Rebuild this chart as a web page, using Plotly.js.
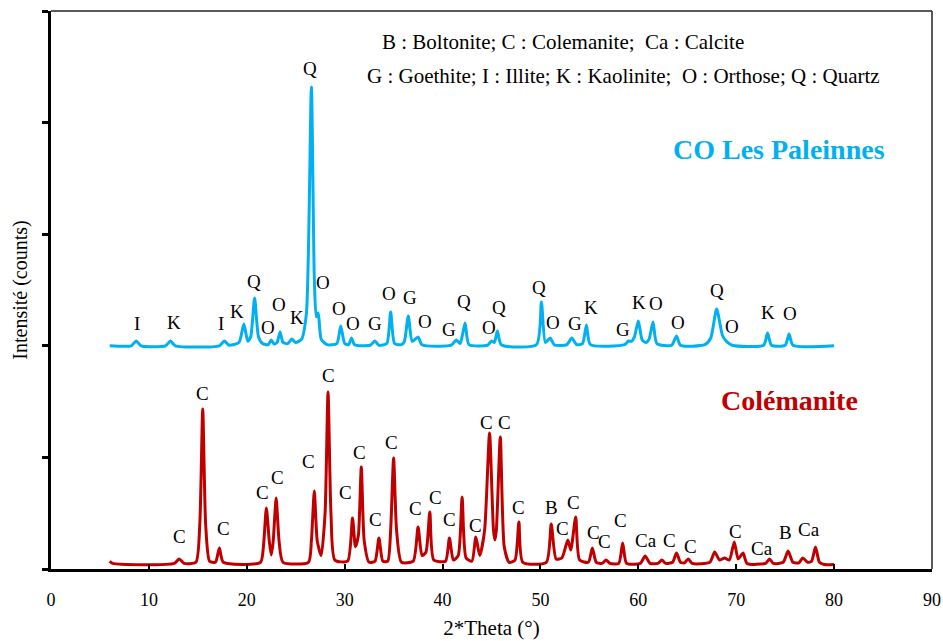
<!DOCTYPE html>
<html>
<head>
<meta charset="utf-8">
<script src="https://cdn.plot.ly/plotly-3.0.1.min.js"></script>
<style>
html,body{margin:0;padding:0;background:#fff;}
#chart{width:943px;height:641px;}
#chart svg text, #chart svg tspan{font-family:'Liberation Serif',serif !important;}
</style>
</head>
<body>
<div id="chart"></div>
<script>
// ---- CO Les Paleinnes pattern (offset pattern, upper curve) ----
const paleinnesTheta = [6.0,8.2,8.7,9.2,11.7,12.2,12.7,17.2,17.7,18.2,19.2,19.7,20.1,20.4,20.8,21.2,21.6,22.2,22.5,22.8,23.1,23.4,23.7,24.2,24.6,25.0,25.6,26.1,26.6,26.9,27.1,27.3,27.6,28.2,29.2,29.6,30.0,30.4,30.7,31.0,32.6,33.1,33.5,34.3,34.7,35.1,35.8,36.1,36.5,36.9,37.5,37.9,40.9,41.4,41.8,42.3,42.7,44.6,45.0,45.3,45.6,46.0,49.6,50.1,50.5,51.0,51.4,52.7,53.2,53.7,54.3,54.7,55.1,58.6,59.0,59.3,59.6,60.0,60.4,60.8,61.1,61.5,61.9,63.4,63.9,64.3,66.8,67.4,68.0,68.6,69.0,69.6,72.8,73.2,73.6,75.0,75.4,75.8,80.0];
const paleinnesCounts = [2000,2000,2043,2000,2000,2043,2000,2000,2043,2005,2030,2195,2040,2080,2428,2080,2020,2010,2052,2015,2030,2124,2030,2020,2061,2030,2060,2300,4319,2600,2260,2294,2060,2010,2020,2177,2020,2010,2070,2010,2005,2043,2005,2020,2303,2020,2010,2040,2267,2040,2079,2010,2005,2052,2020,2204,2010,2005,2043,2030,2133,2010,2010,2392,2030,2070,2010,2010,2070,2010,2020,2186,2010,2010,2043,2040,2080,2222,2050,2030,2060,2213,2020,2005,2088,2005,2010,2070,2330,2090,2040,2005,2005,2115,2005,2005,2106,2005,2000];

// ---- Colémanite pattern (lower curve) ----
const colemaniteTheta = [6.0,6.3,12.6,13.1,13.6,14.8,15.2,15.5,15.8,16.2,16.8,17.2,17.6,21.4,21.7,22.0,22.3,22.5,22.7,23.0,23.3,23.7,26.3,26.6,26.9,27.2,27.6,28.0,28.3,28.6,29.0,30.3,30.8,31.1,31.4,31.7,32.0,32.5,33.1,33.5,33.9,34.4,34.7,35.0,35.3,35.8,37.0,37.5,37.9,38.3,38.7,39.1,40.3,40.7,41.1,41.6,42.0,42.4,43.0,43.4,43.8,44.3,44.8,45.2,45.35,45.5,45.9,46.3,46.8,47.4,47.8,48.2,50.6,51.1,51.6,52.2,52.8,53.1,53.6,54.0,54.9,55.3,55.7,56.3,56.7,57.1,58.0,58.4,58.8,60.2,60.7,61.2,62.0,62.4,62.8,63.5,63.9,64.3,64.7,65.1,65.5,67.3,67.8,68.3,68.8,69.3,69.8,70.2,70.7,71.1,73.0,73.4,73.8,74.8,75.3,75.8,76.4,76.8,77.3,77.7,78.1,78.5,79.0,80.0];
const colemaniteCounts = [70,50,50,90,50,60,400,1434,400,70,60,188,60,60,200,547,250,125,250,636,250,60,60,250,699,250,120,500,1586,500,80,70,457,200,300,914,250,60,70,278,70,70,350,995,350,60,70,376,120,150,511,80,70,278,80,120,645,100,70,287,120,350,1219,350,260,350,1183,200,60,80,421,60,60,403,90,100,260,170,466,80,60,188,60,50,81,50,50,233,50,50,116,50,50,81,50,60,143,60,55,90,50,60,152,80,99,80,242,90,143,50,50,90,50,60,161,60,55,99,60,70,197,60,40,40];

// ---- peak labels ----
const paleinnesLabels = ["I","K","I","K","Q","O","O","K","Q","O","O","O","G","O","G","O","G","Q","O","Q","Q","O","G","K","G","K","O","O","Q","O","K","O"];
const paleinnesLabelTheta = [8.8,12.6,17.4,19.0,20.7,22.2,23.3,25.1,26.5,27.8,29.4,30.9,33.1,34.5,36.7,38.2,40.7,42.2,44.7,45.8,49.9,51.3,53.5,55.2,58.4,60.1,61.8,64.1,68.0,69.6,73.2,75.5];
const paleinnesLabelCounts = [2204,2213,2204,2303,2572,2168,2366,2258,4489,2563,2330,2204,2204,2473,2437,2222,2150,2401,2168,2339,2518,2213,2204,2339,2142,2384,2375,2213,2500,2177,2294,2285];

const colemaniteLabels = ["C","C","C","C","C","C","C","C","C","C","C","C","C","C","C","C","C","C","B","C","C","C","C","C","Ca","C","C","C","Ca","B","Ca"];
const colemaniteLabelTheta = [13.1,15.5,17.6,21.6,23.1,26.3,28.3,30.1,31.5,33.2,34.8,37.2,39.3,40.7,43.4,44.5,46.3,47.8,51.1,52.3,53.4,55.4,56.5,58.2,60.8,63.2,65.3,69.9,72.6,75.0,77.4];
const colemaniteLabelCounts = [287,1577,367,690,824,959,1738,690,1048,448,1138,538,645,448,394,1317,1317,547,547,367,600,323,242,439,251,251,206,332,188,323,358];

const xTickValues = [0,10,20,30,40,50,60,70,80,90];
const keyLines = ["B : Boltonite; C : Colemanite;  Ca : Calcite", "G : Goethite; I : Illite; K : Kaolinite;  O : Orthose; Q : Quartz"];
const sampleNames = ["CO Les Paleinnes", "Colémanite"];

const SERIF = 'Liberation Serif';
const BLUE = '#00B0F0', RED = '#C00000';

const traces = [
  {x: paleinnesTheta, y: paleinnesCounts, type: 'scatter', mode: 'lines', line: {color: BLUE, width: 3, shape: 'spline', smoothing: 0.6}, hoverinfo: 'skip'},
  {x: colemaniteTheta, y: colemaniteCounts, type: 'scatter', mode: 'lines', line: {color: RED, width: 3, shape: 'spline', smoothing: 0.6}, hoverinfo: 'skip'}
];

const lbl = (x, y, t) => ({x: x, y: y, xref: 'x', yref: 'y', text: t, showarrow: false, xanchor: 'center', yanchor: 'middle', font: {family: SERIF, size: 19, color: '#000'}});
const annotations = [];
paleinnesLabels.forEach((t, i) => annotations.push(lbl(paleinnesLabelTheta[i], paleinnesLabelCounts[i], t)));
colemaniteLabels.forEach((t, i) => annotations.push(lbl(colemaniteLabelTheta[i], colemaniteLabelCounts[i], t)));

// text blocks placed by pixel position inside the plot area
const L = 51, R = 932, T = 11, B = 569;
const px = (x, y, t, size, color, weight) => ({x: (x - L) / (R - L), y: (B - y) / (B - T), xref: 'paper', yref: 'paper', text: t, showarrow: false, xanchor: 'center', yanchor: 'middle', font: {family: SERIF, size: size, color: color, weight: weight}});
annotations.push(px(563, 42, keyLines[0], 21, '#000', 'normal'));
annotations.push(px(623, 76, keyLines[1], 21, '#000', 'normal'));
annotations.push(px(779, 150, sampleNames[0], 28, BLUE, 'bold'));
annotations.push(px(789, 400, sampleNames[1], 28, RED, 'bold'));

const layout = {
  width: 943, height: 641,
  margin: {l: L, r: 943 - R, t: T, b: 641 - B},
  paper_bgcolor: '#fff', plot_bgcolor: '#fff',
  showlegend: false,
  font: {family: SERIF, color: '#000'},
  xaxis: {
    range: [0, 90], tickvals: xTickValues, ticktext: xTickValues.map(String),
    showgrid: false, zeroline: false,
    showline: true, linecolor: '#000', linewidth: 3,
    ticks: 'inside', ticklen: 5, tickwidth: 2, tickcolor: '#000',
    tickfont: {family: SERIF, size: 18, color: '#000'},
    ticklabelstandoff: 12,
    title: {text: '2*Theta (°)', font: {family: SERIF, size: 21, color: '#000'}, standoff: 12}
  },
  yaxis: {
    range: [0, 5000], dtick: 1000, tick0: 0,
    showgrid: false, zeroline: false, showticklabels: false,
    showline: true, linecolor: '#000', linewidth: 3,
    ticks: 'outside', ticklen: 6, tickwidth: 3, tickcolor: '#000',
    title: {text: 'Intensité (counts)', font: {family: SERIF, size: 20, color: '#000'}, standoff: 10}
  },
  shapes: [
    {type: 'line', xref: 'paper', yref: 'paper', x0: 0, x1: 1, y0: 1, y1: 1, line: {color: '#222', width: 1.5}},
    {type: 'line', xref: 'paper', yref: 'paper', x0: 1, x1: 1, y0: 0, y1: 1, line: {color: '#222', width: 1.5}}
  ],
  annotations: annotations
};

Plotly.newPlot('chart', traces, layout, {staticPlot: true, displayModeBar: false});
</script>
</body>
</html>
